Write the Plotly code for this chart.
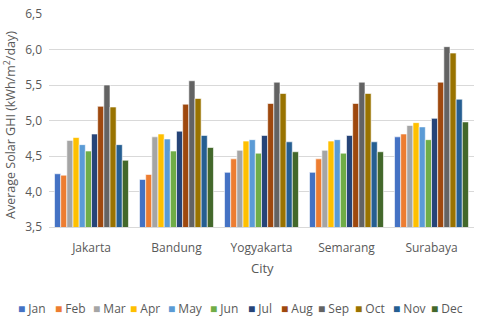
import plotly.graph_objects as go

cities = ["Jakarta", "Bandung", "Yogyakarta", "Semarang", "Surabaya"]
months = ["Jan", "Feb", "Mar", "Apr", "May", "Jun", "Jul", "Aug", "Sep", "Oct", "Nov", "Dec"]

jakarta = [4.25, 4.23, 4.72, 4.76, 4.66, 4.57, 4.81, 5.20, 5.50, 5.19, 4.66, 4.44]
bandung = [4.17, 4.24, 4.77, 4.81, 4.74, 4.57, 4.85, 5.23, 5.56, 5.31, 4.79, 4.62]
yogyakarta = [4.27, 4.46, 4.58, 4.71, 4.73, 4.54, 4.79, 5.24, 5.54, 5.38, 4.70, 4.56]
semarang = [4.27, 4.46, 4.58, 4.71, 4.73, 4.54, 4.79, 5.24, 5.54, 5.38, 4.70, 4.56]
surabaya = [4.77, 4.81, 4.93, 4.97, 4.91, 4.73, 5.03, 5.54, 6.04, 5.95, 5.30, 4.98]

colors = ["#4472C4", "#ED7D31", "#A5A5A5", "#FFC000", "#5B9BD5", "#70AD47",
          "#264478", "#9E480E", "#636363", "#997300", "#255E91", "#43682B"]

table = [jakarta, bandung, yogyakarta, semarang, surabaya]

fig = go.Figure()
for i, m in enumerate(months):
    fig.add_trace(go.Bar(
        x=cities, y=[row[i] for row in table], name=m,
        marker=dict(color=colors[i], line=dict(color="white", width=0.6)),
        showlegend=False,
    ))

font = "Open Sans, Liberation Sans, sans-serif"
grey = "#595959"
L, R, T, B = 49, 6, 14, 93
W, H = 480, 320
pw, ph = W - L - R, H - T - B


def px_x(x):
    return (x - L) / pw


def px_y(y):
    return (H - B - y) / ph


annotations = [
    dict(text="City", x=px_x(262), y=px_y(268), xref="paper", yref="paper",
         showarrow=False, xanchor="center", yanchor="middle",
         font=dict(size=13, color=grey)),
    dict(text="Average Solar GHI (kWh/m<sup>2</sup>/day)", textangle=-90,
         x=px_x(10), y=px_y(125), xref="paper", yref="paper",
         showarrow=False, xanchor="center", yanchor="middle",
         font=dict(size=12.5, color=grey)),
]

# manual legend (compact, one row)
legend_x = [16, 53, 91, 128, 166, 208, 246, 279, 316, 353, 391, 429]
for i, m in enumerate(months):
    annotations.append(dict(
        text=f"<span style='color:{colors[i]}'>■</span> {m}",
        x=px_x(legend_x[i]), y=px_y(308), xref="paper", yref="paper",
        showarrow=False, xanchor="left", yanchor="middle",
        font=dict(size=12, color=grey)))

fig.update_layout(
    width=W, height=H,
    margin=dict(l=L, r=R, t=T, b=B, autoexpand=False),
    barmode="group", bargap=0.13, bargroupgap=0,
    plot_bgcolor="white", paper_bgcolor="white",
    separators=",.",
    font=dict(family=font, size=11, color=grey),
    showlegend=False,
    xaxis=dict(showline=True, linecolor="#D9D9D9", linewidth=1, ticks="",
               tickfont=dict(size=12, color=grey), ticklabelstandoff=10),
    yaxis=dict(range=[3.5, 6.5], dtick=0.5, tickformat=".1f", showgrid=True,
               gridcolor="#D9D9D9", gridwidth=1, zeroline=False,
               tickfont=dict(size=12, color=grey), ticks="", ticklabelstandoff=6),
    annotations=annotations,
)

fig.write_html("out.html", config={"displayModeBar": False},
               post_script="document.body.style.margin='0';document.body.style.overflow='hidden';")
